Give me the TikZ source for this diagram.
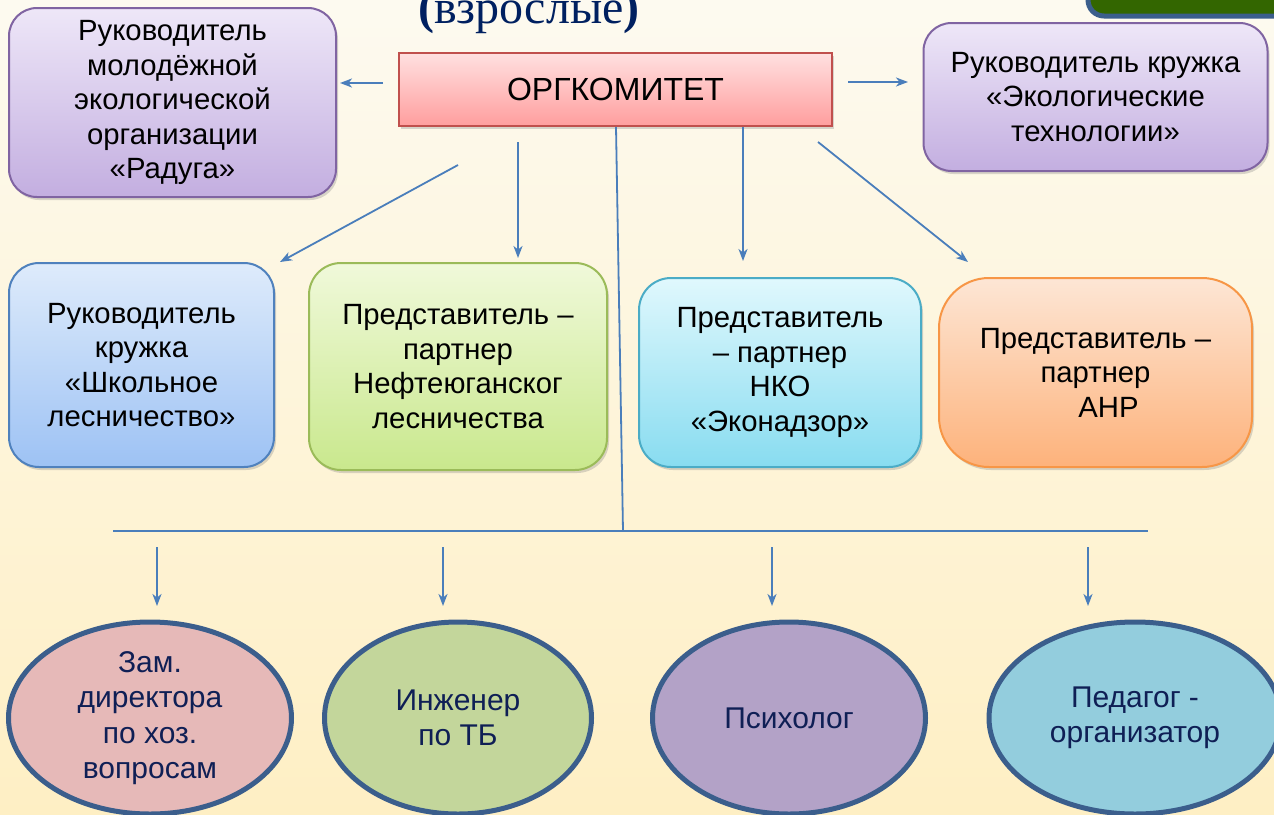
\documentclass[tikz,border=0pt]{standalone}
\usepackage{fontspec}
\setmainfont{Liberation Sans}
\newfontfamily\serifT{Liberation Serif}
\usetikzlibrary{shapes.geometric,arrows.meta,shadows}
\definecolor{bgtop}{HTML}{FDFAF0}
\definecolor{bgbot}{HTML}{FEEFC4}
\definecolor{titlec}{HTML}{002060}
\definecolor{arrc}{HTML}{4A7EBB}
\definecolor{purT}{HTML}{EEE7F8}\definecolor{purB}{HTML}{C3AEE0}\definecolor{purD}{HTML}{8064A2}
\definecolor{redT}{HTML}{FFE0E0}\definecolor{redB}{HTML}{FF9E9E}\definecolor{redD}{HTML}{C0504D}
\definecolor{bluT}{HTML}{DEEBFB}\definecolor{bluB}{HTML}{9DC2F4}\definecolor{bluD}{HTML}{4F81BD}
\definecolor{grnT}{HTML}{F0F9DA}\definecolor{grnB}{HTML}{C9E88D}\definecolor{grnD}{HTML}{9BBB59}
\definecolor{cyaT}{HTML}{E0F8FD}\definecolor{cyaB}{HTML}{88DCF0}\definecolor{cyaD}{HTML}{4BACC6}
\definecolor{oraT}{HTML}{FDE6D5}\definecolor{oraB}{HTML}{FDB27B}\definecolor{oraD}{HTML}{F79646}
\definecolor{ellD}{HTML}{3B5E8C}
\definecolor{ellT}{HTML}{0F1F55}
\definecolor{e1}{HTML}{E6B9B8}\definecolor{e2}{HTML}{C3D69B}\definecolor{e3}{HTML}{B3A2C7}\definecolor{e4}{HTML}{93CDDD}
\definecolor{dgreen}{HTML}{336600}
\tikzset{
  rbox/.style={draw, line width=2pt, align=center, inner sep=0pt,
    font=\fontsize{29.3}{34.5}\selectfont,
    drop shadow={opacity=0.3, shadow xshift=2pt, shadow yshift=-3pt}},
  ell/.style={ellipse, draw=ellD, line width=5pt, inner sep=0pt, align=center,
    text=ellT, font=\fontsize{30}{35.5}\selectfont},
  arr/.style={draw=arrc, line width=1.8pt, -{Stealth[length=12pt,width=9pt,inset=3.5pt]}},
  ln/.style={draw=arrc, line width=1.8pt}
}
\begin{document}
\begin{tikzpicture}[x=1pt,y=-1pt]
\shade[top color=bgtop,bottom color=bgbot] (0,0) rectangle (1274,814);
\useasboundingbox (0,0) rectangle (1274,814);
\begin{scope}
\clip (0,0) rectangle (1274,814);
% partial green box at top right
\draw[fill=dgreen, draw=ellD, line width=5pt, rounded corners=16pt] (1088,-40) rectangle (1300,16);
% title (cut)
\node[anchor=base, text=titlec, font=\serifT\fontsize{48}{50}\selectfont] (title) at (529,23)
  {{\bfseries(}взрослые{\bfseries)}};

% top boxes
\node[rbox, draw=purD, top color=purT, bottom color=purB, rounded corners=28pt,
  minimum width=327pt, minimum height=189pt] (radu) at (172.5,102.5)
  {Руководитель\\ молодёжной\\ экологической\\ организации\\ «Радуга»};
\node[rbox, draw=redD, line width=2.5pt, top color=redT, bottom color=redB,
  minimum width=433pt, minimum height=73pt, font=\fontsize{32}{36}\selectfont] (org) at (615.5,89.5)
  {ОРГКОМИТЕТ};
\node[rbox, draw=purD, top color=purT, bottom color=purB, rounded corners=28pt,
  minimum width=344pt, minimum height=148pt] (eco) at (1095.5,97)
  {Руководитель кружка\\ «Экологические\\ технологии»};

% middle boxes
\node[rbox, draw=bluD, top color=bluT, bottom color=bluB, rounded corners=30pt,
  minimum width=265pt, minimum height=204pt] (les) at (141.5,365)
  {Руководитель\\ кружка\\ «Школьное\\ лесничество»};
\node[rbox, draw=grnD, top color=grnT, bottom color=grnB, rounded corners=32pt,
  minimum width=298pt, minimum height=207pt] (nef) at (458,366.5)
  {Представитель –\\ партнер\\ Нефтеюганског\\ лесничества};
\node[rbox, draw=cyaD, top color=cyaT, bottom color=cyaB, rounded corners=32pt,
  minimum width=282pt, minimum height=189pt] (nko) at (780,372.5)
  {Представитель\\ – партнер\\ НКО\\ «Эконадзор»};
\node[rbox, draw=oraD, top color=oraT, bottom color=oraB, rounded corners=50pt,
  minimum width=313pt, minimum height=189pt] (anr) at (1095.5,372.5)
  {Представитель –\\ партнер\\ \hspace*{26pt}АНР};

% ellipses
\node[ell, fill=e1, minimum width=283pt, minimum height=192pt] (zam) at (150,718)
  {Зам.\\ директора\\ по хоз.\\ вопросам};
\node[ell, fill=e2, minimum width=267pt, minimum height=192pt] (ing) at (458,718)
  {Инженер\\ по ТБ};
\node[ell, fill=e3, minimum width=273pt, minimum height=192pt] (psy) at (789,718)
  {Психолог};
\node[ell, fill=e4, minimum width=292pt, minimum height=192pt] (ped) at (1135,718)
  {Педагог -\\ организатор};

% connector end points
\coordinate (l1) at (383,83);  \coordinate (l2) at (340,83);
\coordinate (r1) at (848,82);  \coordinate (r2) at (908,82);
\coordinate (d1) at (458,165); \coordinate (d2) at (280,262);
\coordinate (v1) at (518,142); \coordinate (v2) at (518,258);
\coordinate (w1) at (743,127); \coordinate (w2) at (743,261);
\coordinate (s1) at (818,142); \coordinate (s2) at (968,262);
\coordinate (top) at (616,127); \coordinate (mid) at (623,531);
\coordinate (hl) at (113,531); \coordinate (hr) at (1148,531);
\coordinate (a1) at (157,547); \coordinate (a2) at (157,606);
\coordinate (b1) at (443,547); \coordinate (b2) at (443,606);
\coordinate (c1) at (772,547); \coordinate (c2) at (772,606);
\coordinate (f1) at (1088,547); \coordinate (f2) at (1088,606);

\draw[arr] (l1) -- (l2);
\draw[arr] (r1) -- (r2);
\draw[arr] (d1) -- (d2);
\draw[arr] (v1) -- (v2);
\draw[arr] (w1) -- (w2);
\draw[arr] (s1) -- (s2);
\draw[ln] (top) -- (mid);
\draw[ln] (hl) -- (hr);
\draw[arr] (a1) -- (a2);
\draw[arr] (b1) -- (b2);
\draw[arr] (c1) -- (c2);
\draw[arr] (f1) -- (f2);
\end{scope}
\end{tikzpicture}
\end{document}
